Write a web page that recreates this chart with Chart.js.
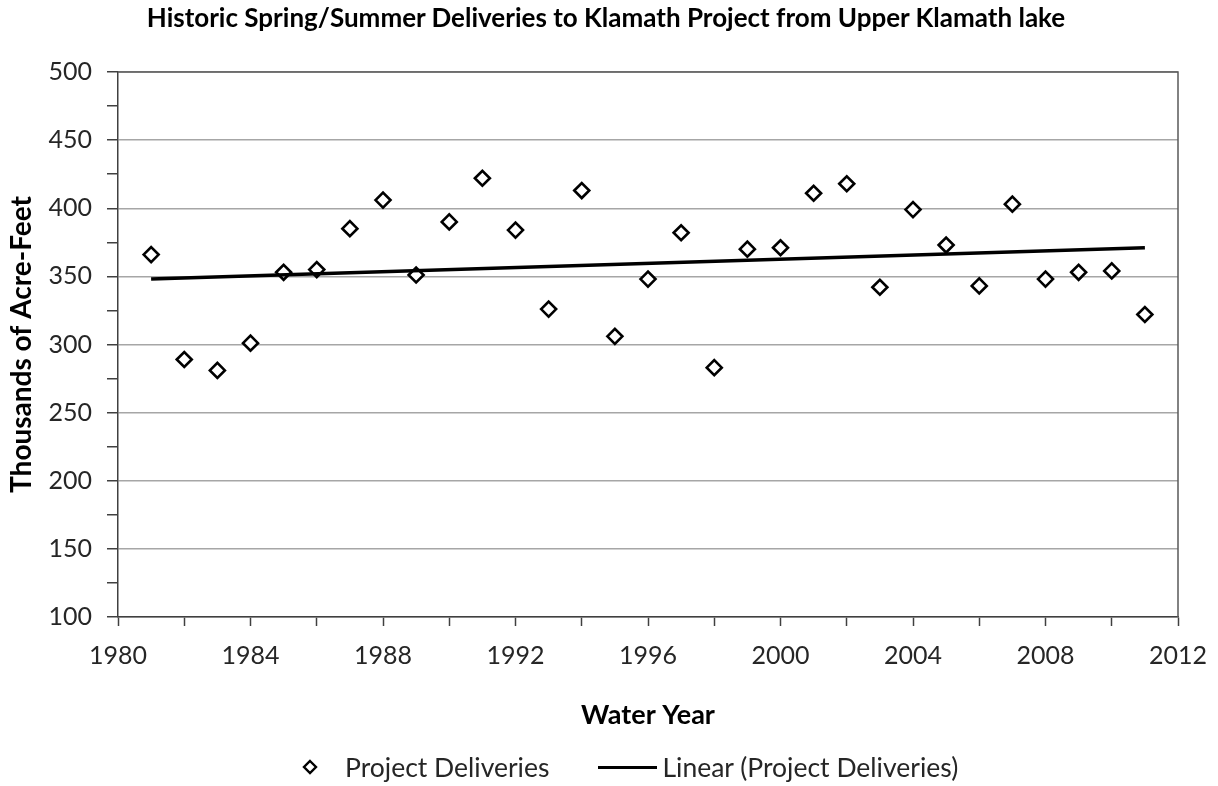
<!DOCTYPE html>
<html>
<head>
<meta charset="utf-8">
<title>Historic Spring/Summer Deliveries</title>
<script src="https://cdn.jsdelivr.net/npm/chart.js@4.4.1/dist/chart.umd.min.js"></script>
<style>
    html, body { margin: 0; padding: 0; background: #fff; }
    .wrap { position: relative; width: 1218px; height: 786px; }
    .title {
        position: absolute; left: 0; top: 2px; width: 1212px; text-align: center;
        font-family: Lato, "Open Sans", sans-serif; font-weight: bold; font-size: 26px; line-height: 31px; color: #000;
    }
    .legend {
        position: absolute; left: 302px; top: 752px; height: 30px;
        display: flex; align-items: center;
        font-family: Lato, "Open Sans", sans-serif; font-size: 26.5px; color: #262626;
    }
    .legend .item { display: flex; align-items: center; }
    .legend .diamond { width: 16px; height: 16px; margin-right: 27px; }
    .legend .line { width: 59px; height: 3px; background: #000; margin-left: 49px; margin-right: 5px; }
</style>
</head>
<body>
<div class="wrap">
    <canvas id="myChart" width="1218" height="786"></canvas>
    <div class="title" id="title"></div>
    <div class="legend" id="legend"></div>
</div>
<script>
// values (thousands of acre-feet)
const waterYears = [1981, 1982, 1983, 1984, 1985, 1986, 1987, 1988, 1989, 1990,
    1991, 1992, 1993, 1994, 1995, 1996, 1997, 1998, 1999, 2000,
    2001, 2002, 2003, 2004, 2005, 2006, 2007, 2008, 2009, 2010, 2011];
const deliveries = [366, 289, 281, 301, 353, 355, 385, 406, 351, 390,
    422, 384, 326, 413, 306, 348, 382, 283, 370, 371,
    411, 418, 342, 399, 373, 343, 403, 348, 353, 354, 322];

// trend line end points as drawn
const trendYears = [1981, 2011];
const trendValues = [348, 371];

const yTicks = [100, 150, 200, 250, 300, 350, 400, 450, 500];
const xTicks = [1980, 1984, 1988, 1992, 1996, 2000, 2004, 2008, 2012];

const chartTitle = "Historic Spring/Summer Deliveries to Klamath Project from Upper Klamath lake";
const yTitle = "Thousands of Acre-Feet";
const xTitle = "Water Year";
const seriesName = "Project Deliveries";
const trendName = "Linear (Project Deliveries)";

const fontFamily = "Lato, 'Open Sans', sans-serif";

const toPoints = (xs, ys) => xs.map((x, i) => ({ x: x, y: ys[i] }));

document.getElementById("title").textContent = chartTitle;

// border round the plot area
const plotBorder = {
    id: "plotBorder",
    afterDatasetsDraw: (chart) => {
        const a = chart.chartArea;
        const ctx = chart.ctx;
        ctx.save();
        ctx.strokeStyle = "#595959";
        ctx.lineWidth = 1.5;
        ctx.beginPath();
        ctx.moveTo(a.left, a.top);
        ctx.lineTo(a.right, a.top);
        ctx.lineTo(a.right, a.bottom);
        ctx.stroke();
        ctx.restore();
    }
};

const ctx = document.getElementById("myChart").getContext("2d");

const myChart = new Chart(ctx, {
    type: "scatter",
    data: {
        datasets: [
            {
                type: "line",
                label: trendName,
                data: toPoints(trendYears, trendValues),
                borderColor: "#000",
                borderWidth: 3.5,
                pointRadius: 0,
                fill: false,
                order: 0
            },
            {
                label: seriesName,
                data: toPoints(waterYears, deliveries),
                pointStyle: "rectRot",
                pointRadius: 7.5,
                pointBorderWidth: 2.6,
                pointBackgroundColor: "#fff",
                pointBorderColor: "#000",
                order: 1
            }
        ]
    },
    options: {
        responsive: false,
        animation: false,
        layout: { padding: { left: 0, right: 40, top: 72, bottom: 0 } },
        plugins: {
            legend: { display: false },
            tooltip: { enabled: false },
            title: { display: false }
        },
        scales: {
            x: {
                type: "linear",
                min: 1980,
                max: 2012,
                afterFit: (scale) => {
                    scale.height = 169;
                    scale.paddingRight = 0;
                    scale.paddingLeft = 0;
                },
                ticks: {
                    stepSize: 2,
                    autoSkip: false,
                    maxRotation: 0,
                    padding: 15,
                    color: "#262626",
                    font: { family: fontFamily, size: 25 },
                    callback: (v) => xTicks.includes(v) ? String(v) : ""
                },
                grid: {
                    drawOnChartArea: false,
                    tickLength: 9,
                    tickColor: "#404040",
                    tickWidth: 1.5
                },
                border: { color: "#404040", width: 1.5 },
                title: {
                    display: true,
                    text: xTitle,
                    color: "#000",
                    font: { family: fontFamily, size: 27, weight: "bold" },
                    padding: { top: 0, bottom: 55 }
                }
            },
            y: {
                min: 100,
                max: 500,
                afterFit: (scale) => {
                    scale.width = 118;
                    scale.paddingTop = 0;
                },
                ticks: {
                    stepSize: 25,
                    padding: 15,
                    color: "#262626",
                    font: { family: fontFamily, size: 25 },
                    callback: (v) => yTicks.includes(v) ? String(v) : ""
                },
                grid: {
                    color: (c) => yTicks.includes(c.tick.value) ? "#a6a6a6" : "rgba(0,0,0,0)",
                    lineWidth: 1.5,
                    tickLength: 11,
                    tickColor: "#404040",
                    tickWidth: 1.5
                },
                border: { color: "#404040", width: 1.5 },
                title: {
                    display: true,
                    text: yTitle,
                    color: "#000",
                    font: { family: fontFamily, size: 28, weight: "bold" },
                    padding: { top: 5, bottom: 0 }
                }
            }
        }
    },
    plugins: [plotBorder]
});

// legend drawn as html under the chart
const legendBox = document.getElementById("legend");
const buildLegend = () => {
    const sets = myChart.data.datasets.slice().sort((a, b) => b.order - a.order);
    sets.forEach((ds) => {
        const item = document.createElement("div");
        item.className = "item";
        if (ds.pointStyle === "rectRot") {
            item.innerHTML = '<svg class="diamond" viewBox="0 0 16 16"><path d="M8 2 L14 8 L8 14 L2 8 Z" fill="#fff" stroke="#000" stroke-width="2.4"/></svg>';
        } else {
            item.innerHTML = '<span class="line"></span>';
        }
        const label = document.createElement("span");
        label.textContent = ds.label;
        item.appendChild(label);
        legendBox.appendChild(item);
    });
};

buildLegend();
</script>
</body>
</html>
